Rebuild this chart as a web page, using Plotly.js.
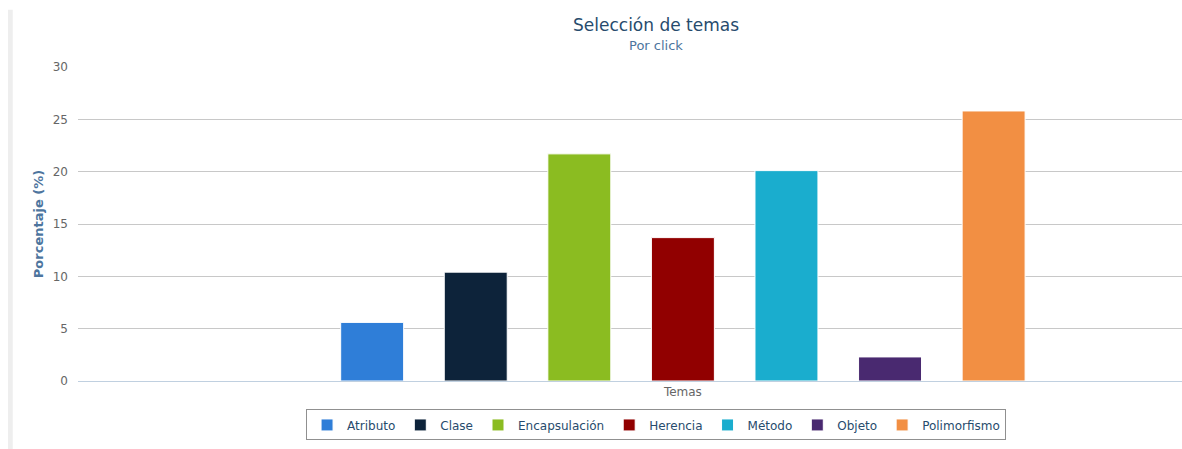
<!DOCTYPE html>
<html>
<head>
<meta charset="utf-8">
<script src="https://cdn.plot.ly/plotly-3.0.1.min.js"></script>
<style>html,body{margin:0;padding:0;background:#fff;}#chart{width:1182px;height:449px;}</style>
</head>
<body>
<div id="chart"></div>
<script>
var categories = ["Temas"];
var seriesNames = ["Atributo", "Clase", "Encapsulación", "Herencia", "Método", "Objeto", "Polimorfismo"];
var seriesValues = [5.6, 10.4, 21.7, 13.7, 20.1, 2.3, 25.8];
var seriesColors = ["#2f7ed8", "#0d233a", "#8bbc21", "#910000", "#1aadce", "#492970", "#f28f43"];
var yTickValues = [0, 5, 10, 15, 20, 25, 30];

var FONT = "DejaVu Sans, Verdana, sans-serif";

var traces = seriesNames.map(function (name, i) {
  return {
    type: "bar",
    name: name,
    x: categories,
    y: [seriesValues[i]],
    marker: { color: seriesColors[i], line: { color: "#ffffff", width: 1 } },
    hoverinfo: "name+y"
  };
});

var layout = {
  width: 1182,
  height: 449,
  margin: { l: 78, r: 0, t: 67, b: 68, pad: 0 },
  paper_bgcolor: "#ffffff",
  plot_bgcolor: "#ffffff",
  font: { family: FONT, color: "#666666", size: 12 },
  barmode: "group",
  bargap: 0,
  bargroupgap: 0.392,
  title: {
    text: "Selección de temas",
    font: { family: FONT, size: 17, color: "#274b6d" },
    x: 0.5236, xref: "paper", xanchor: "center",
    y: 0.944, yref: "container", yanchor: "middle"
  },
  annotations: [{
    text: "Por click",
    xref: "paper", yref: "paper",
    x: 0.5236, y: 1.07, xanchor: "center", yanchor: "middle",
    showarrow: false,
    font: { family: FONT, size: 13, color: "#4d759e" }
  }],
  xaxis: {
    type: "category",
    range: [-0.8343, 0.6884],
    showgrid: false,
    showline: true,
    linecolor: "#C0D0E0",
    linewidth: 1,
    ticks: "",
    tickfont: { family: FONT, size: 12, color: "#666666" },
    fixedrange: true
  },
  yaxis: {
    range: [0, 30],
    tickvals: yTickValues,
    ticktext: yTickValues.map(String),
    showgrid: true,
    gridcolor: "#c8c8c8",
    gridwidth: 1,
    zeroline: false,
    showline: false,
    ticks: "",
    ticklabelstandoff: 9,
    tickfont: { family: FONT, size: 12, color: "#666666" },
    title: {
      text: "Porcentaje (%)",
      font: { family: FONT, size: 13, color: "#4d759e", weight: "bold" },
      standoff: 6
    },
    fixedrange: true
  },
  showlegend: true,
  legend: {
    orientation: "h",
    x: 0.5236, xanchor: "center",
    y: -0.0906, yanchor: "top",
    bordercolor: "#909090",
    borderwidth: 1,
    bgcolor: "#ffffff",
    font: { family: FONT, size: 12, color: "#274b6d" },
    itemwidth: 30,
    traceorder: "normal"
  },
  shapes: [{
    type: "rect", xref: "paper", yref: "paper",
    x0: -0.0634, x1: -0.0591, y0: -0.22, y1: 1.182,
    fillcolor: "#eeeeee", line: { width: 0 }, layer: "below"
  }]
};

Plotly.newPlot("chart", traces, layout, { displayModeBar: false, responsive: false });
</script>
</body>
</html>
